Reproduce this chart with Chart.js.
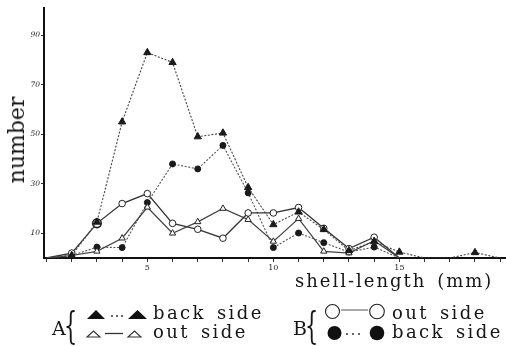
<!DOCTYPE html>
<html>
<head>
<meta charset="utf-8">
<script src="https://cdn.jsdelivr.net/npm/chart.js@4/dist/chart.umd.min.js"></script>
<style>
  html, body { margin: 0; padding: 0; background: #fff; }
  #wrap { position: relative; width: 506px; height: 346px; overflow: hidden; background: #fff; }
  #chart { position: absolute; left: 0; top: 0; }
  .t { position: absolute; font-family: "DejaVu Serif", serif; color: #161616; line-height: 1; white-space: nowrap; }
  .lab { font-size: 18px; letter-spacing: 2.4px; word-spacing: 3px; }
  .big { font-size: 19px; }
  .brace { font-size: 38px; transform: scaleX(0.55); transform-origin: left top; }
  svg.mk { position: absolute; overflow: visible; }
</style>
</head>
<body>
<div id="wrap">
  <canvas id="chart" width="506" height="346"></canvas>

  <div class="t" id="ytitle" style="left:17px; top:140px; font-size:22px; transform: translate(-50%,-50%) rotate(-90deg);">number</div>
  <div class="t lab" style="left:295px; top:272px; letter-spacing:2px;">shell-length (mm)</div>

  <!-- group A -->
  <div class="t big" style="left:52px; top:319px;">A</div>
  <div class="t brace" style="left:64px; top:306px;">{</div>
  <svg class="mk" style="left:84px; top:306px;" width="66" height="16">
    <polygon points="3,13 12,4 21,13" fill="#111"/>
    <circle cx="28" cy="10" r="1" fill="#333"/><circle cx="33" cy="10" r="1" fill="#333"/><circle cx="38" cy="10" r="1" fill="#333"/>
    <polygon points="44,13 53.5,4 63,13" fill="#111"/>
  </svg>
  <svg class="mk" style="left:84px; top:326px;" width="66" height="14">
    <polygon points="3,11 9.5,5 16,11" fill="none" stroke="#333" stroke-width="1.1"/>
    <line x1="21" y1="7.5" x2="39" y2="7.5" stroke="#333" stroke-width="1.3"/>
    <polygon points="44,11 50.5,5 57,11" fill="none" stroke="#333" stroke-width="1.1"/>
  </svg>
  <div class="t lab" style="left:153px; top:304px;">back side</div>
  <div class="t lab" style="left:153px; top:323px;">out side</div>

  <!-- group B -->
  <div class="t big" style="left:293px; top:319px;">B</div>
  <div class="t brace" style="left:305px; top:306px;">{</div>
  <svg class="mk" style="left:322px; top:302px;" width="70" height="20">
    <circle cx="10.5" cy="9.5" r="7" fill="none" stroke="#222" stroke-width="1.1"/>
    <line x1="19" y1="8" x2="46" y2="8" stroke="#555" stroke-width="1"/>
    <circle cx="55" cy="9.5" r="7.3" fill="none" stroke="#222" stroke-width="1.1"/>
  </svg>
  <svg class="mk" style="left:322px; top:324px;" width="70" height="20">
    <circle cx="12.5" cy="9" r="7" fill="#111"/>
    <circle cx="25" cy="10" r="1" fill="#333"/><circle cx="31" cy="10" r="1" fill="#333"/><circle cx="37" cy="10" r="1" fill="#333"/>
    <circle cx="55" cy="9" r="7.3" fill="#111"/>
  </svg>
  <div class="t lab" style="left:392px; top:304px;">out side</div>
  <div class="t lab" style="left:392px; top:323px;">back side</div>
</div>

<script>
// shell length classes (mm)
const shellLength = [1, 2, 3, 4, 5, 6, 7, 8, 9, 10, 11, 12, 13, 14, 15, 16, 17, 18, 19];

// A: back side (filled triangles, dotted) and out side (open triangles, solid)
const aBack = [0, 1, 14.5, 55, 83, 79, 49, 50.5, 28.5, 13.5, 18.6, 11.5, 3, 6.6, 2.4, 0, 0, 2.2, 0];
const aOut  = [0, 1, 2.7, 8, 20.5, 10, 14.6, 20, 15.5, 6.7, 15.9, 2.7, 2, 7, 0];

// B: out side (open circles, solid) and back side (filled circles, dotted)
const bOut  = [0, 2, 14, 22, 26, 14, 11.6, 8, 18.2, 18.2, 20.4, 12, 3.8, 8.4, 0];
const bBack = [0, 1, 4.4, 4.2, 22.4, 38, 36, 45.5, 26.3, 4.2, 10.1, 6.2, 2.4, 4.4, 0];

// axis ticks
const yTickValues = [10, 30, 50, 70, 90];
const xTickLabels = [5, 10, 15];

const toPoints = vals => vals.map((v, i) => ({ x: shellLength[i], y: v }));
const hideZero = r => ctx => (ctx.raw && ctx.raw.y === 0) ? 0 : r;

const ink = '#1a1a1a';
const lineGrey = '#444';

const datasets = [
  {
    label: 'A back side',
    data: toPoints(aBack),
    borderColor: lineGrey, borderWidth: 1.1, borderDash: [2, 1.6],
    pointStyle: 'triangle', pointRadius: hideZero(4.2),
    pointBackgroundColor: ink, pointBorderColor: ink, pointBorderWidth: 1
  },
  {
    label: 'A out side',
    data: toPoints(aOut),
    borderColor: lineGrey, borderWidth: 1.2,
    pointStyle: 'triangle', pointRadius: hideZero(3.6),
    pointBackgroundColor: '#fff', pointBorderColor: '#222', pointBorderWidth: 1
  },
  {
    label: 'B out side',
    data: toPoints(bOut),
    borderColor: '#333', borderWidth: 1.3,
    pointStyle: 'circle',
    pointRadius: ctx => (ctx.raw && ctx.raw.y === 0) ? 0 : (ctx.dataIndex === 2 ? 4.3 : 3.3),
    pointBackgroundColor: '#fff', pointBorderColor: '#222',
    pointBorderWidth: ctx => ctx.dataIndex === 2 ? 1.6 : 1
  },
  {
    label: 'B back side',
    data: toPoints(bBack),
    borderColor: '#555', borderWidth: 1.1, borderDash: [2, 1.6],
    pointStyle: 'circle', pointRadius: hideZero(3),
    pointBackgroundColor: ink, pointBorderColor: ink, pointBorderWidth: 1
  }
];

new Chart(document.getElementById('chart'), {
  type: 'line',
  data: { datasets },
  options: {
    responsive: false,
    animation: false,
    devicePixelRatio: 1,
    layout: { padding: { top: 8, right: 0, bottom: 0, left: 0 } },
    elements: { line: { tension: 0, fill: false } },
    plugins: { legend: { display: false }, tooltip: { enabled: false } },
    scales: {
      x: {
        type: 'linear',
        min: 0.9,
        max: 19.23,
        afterBuildTicks: s => { s.ticks = shellLength.map(v => ({ value: v })); },
        afterFit: s => { s.height = 88; },
        ticks: {
          autoSkip: false, maxRotation: 0, padding: 1,
          color: '#222',
          font: { family: 'DejaVu Serif', size: 8 },
          callback: v => xTickLabels.includes(v) ? String(v) : ''
        },
        grid: { drawOnChartArea: false, drawTicks: true, tickLength: 4, color: '#333', tickWidth: 1 },
        border: { display: true, color: '#111', width: 2 }
      },
      y: {
        min: 0,
        max: 101,
        afterBuildTicks: s => { s.ticks = yTickValues.map(v => ({ value: v })); },
        afterFit: s => { s.width = 44; },
        ticks: {
          padding: 1,
          color: '#222',
          font: { family: 'DejaVu Serif', size: 7.5, style: 'italic' },
          callback: v => String(v)
        },
        grid: { drawOnChartArea: false, drawTicks: true, tickLength: 3, color: '#333', tickWidth: 1 },
        border: { display: true, color: '#111', width: 2 }
      }
    }
  }
});
</script>
</body>
</html>
